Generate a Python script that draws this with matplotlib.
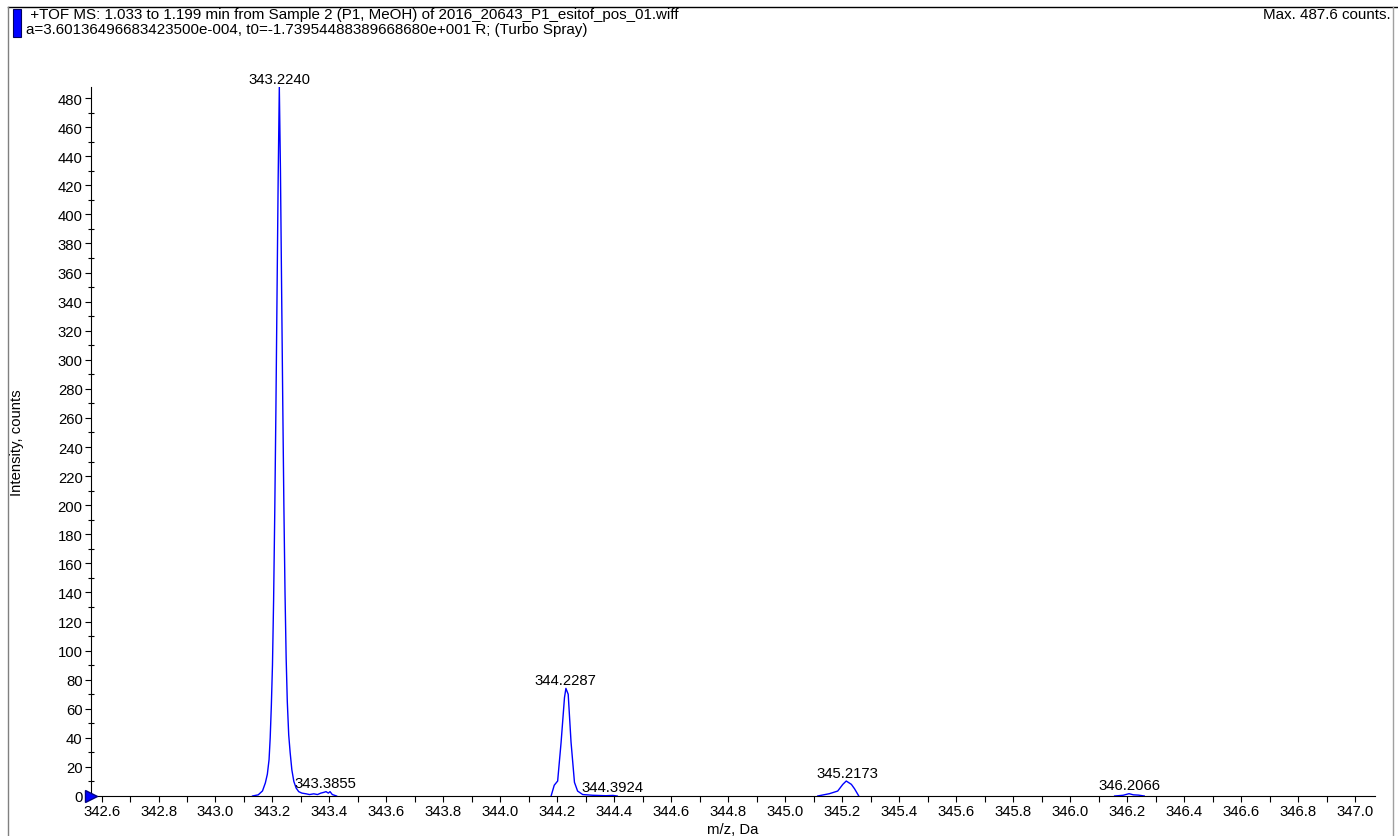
import numpy as np
import matplotlib.pyplot as plt
from matplotlib.lines import Line2D
from matplotlib.patches import Rectangle
from matplotlib.ticker import MultipleLocator

plt.rcParams['font.family'] = ['Liberation Sans', 'DejaVu Sans']

# profilo dei picchi (m/z, intensita')
mz1 = [343.130, 343.150, 343.165, 343.175, 343.182, 343.188, 343.192, 343.196,
       343.200, 343.204, 343.208, 343.212, 343.216, 343.220, 343.224, 343.228,
       343.232, 343.236, 343.240, 343.244, 343.248, 343.252, 343.257, 343.262,
       343.268, 343.275, 343.283, 343.292, 343.303, 343.318, 343.330, 343.345,
       343.358, 343.370, 343.380, 343.388, 343.396, 343.402, 343.410, 343.425]
int1 = [0.0, 0.8, 3.5, 9, 15, 25, 40, 62,
        90, 135, 195, 265, 345, 425, 487.6, 430,
        350, 272, 200, 140, 95, 65, 42, 30,
        18, 10, 5.5, 3, 2, 1.5, 1, 1.5,
        1, 2, 2.5, 3, 2, 3, 1, 0]

mz2 = [344.178, 344.189, 344.201, 344.213, 344.225, 344.230, 344.238, 344.248,
       344.260, 344.271, 344.289, 344.324, 344.370, 344.395, 344.410]
int2 = [0, 7.4, 10.3, 36.7, 67.7, 74, 70, 37,
        9.4, 3.4, 1, 0.5, 0.2, 0.4, 0]

mz3 = [345.114, 345.155, 345.184, 345.202, 345.214, 345.232, 345.243, 345.258]
int3 = [0, 1.6, 3.4, 8, 10.3, 8, 5, 0]

mz4 = [346.156, 346.186, 346.2066, 346.222, 346.240, 346.260]
int4 = [0, 0.5, 1.6, 0.8, 0.6, 0]

# etichette dei picchi
peak_mz = [343.2240, 343.3855, 344.2287, 344.3924, 345.2173, 346.2066]
peak_int = [487.6, 3.0, 74.0, 0.4, 10.3, 1.6]
peak_lab = ['343.2240', '343.3855', '344.2287', '344.3924', '345.2173', '346.2066']

fig = plt.figure(figsize=(13.98, 8.37), dpi=100)
ax = fig.add_axes([91/1398, 1-797/837, (1375-91)/1398, (797-88)/837])

for xs, ys in [(mz1, int1), (mz2, int2), (mz3, int3), (mz4, int4)]:
    ax.plot(xs, ys, color='#0000FF', lw=1.0, zorder=3)

for m, i, t in zip(peak_mz, peak_int, peak_lab):
    ax.annotate(t, (m, i), xytext=(0, 1), textcoords='offset points',
                ha='center', va='bottom', fontsize=10.7, annotation_clip=False)

ax.set_xlim(342.563, 347.07)
ax.set_ylim(0, 487.6)
ax.xaxis.set_major_locator(MultipleLocator(0.2))
ax.xaxis.set_minor_locator(MultipleLocator(0.1))
ax.yaxis.set_major_locator(MultipleLocator(20))
ax.yaxis.set_minor_locator(MultipleLocator(10))
ax.xaxis.set_major_formatter(lambda v, p: f'{v:.1f}')
ax.tick_params(axis='both', which='major', length=4, width=0.8, pad=2, labelsize=10.7)
ax.tick_params(axis='both', which='minor', length=4, width=0.8)
ax.tick_params(axis='y', which='minor', direction='inout')
for s in ['top', 'right']:
    ax.spines[s].set_visible(False)
ax.plot([342.563], [0], marker='>', ms=9, color='#0000FF', mec='#000080',
        clip_on=False, zorder=5)

# cornice e intestazione
W, H = 1398, 837
fig.add_artist(Line2D([8/W, 1], [1-8/H, 1-8/H], color='black', lw=1))
fig.add_artist(Line2D([8/W, 8/W], [0, 1-8/H], color='#808080', lw=1))
fig.add_artist(Line2D([1393/W, 1393/W], [0, 1-8/H], color='#a0a0a0', lw=1))
fig.add_artist(Rectangle((13/W, 1-38/H), 8/W, 28/H, facecolor='#0000FF',
                         edgecolor='#000060', lw=0.8, transform=fig.transFigure))

fig.text(26/W, 1-15/H, ' +TOF MS: 1.033 to 1.199 min from Sample 2 (P1, MeOH) of 2016_20643_P1_esitof_pos_01.wiff',
         fontsize=10.9, va='center', ha='left')
fig.text(26/W, 1-30/H, 'a=3.60136496683423500e-004, t0=-1.73954488389668680e+001 R; (Turbo Spray)',
         fontsize=10.9, va='center', ha='left')
fig.text(1391/W, 1-15/H, 'Max. 487.6 counts.', fontsize=10.9, va='center', ha='right')
fig.text(17/W, 1-443/H, 'Intensity, counts', rotation=90, fontsize=10.7, va='center', ha='center')
fig.text(733/W, 1-830/H, 'm/z, Da', fontsize=10.7, va='center', ha='center')

fig.savefig('out.png', dpi=100)
